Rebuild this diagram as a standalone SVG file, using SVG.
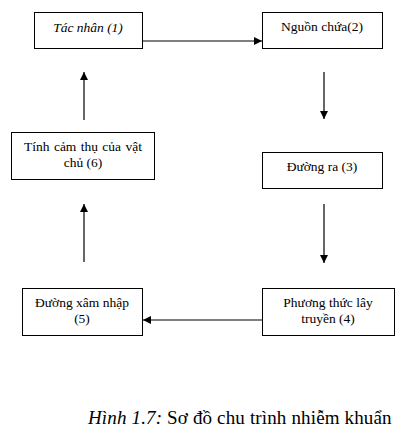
<svg xmlns="http://www.w3.org/2000/svg" width="412" height="438" viewBox="0 0 412 438">
<style>
.box{fill:#fff;stroke:#000;stroke-width:1}
.t{font-family:'Liberation Serif',serif;font-size:13.5px;fill:#000;text-anchor:middle}
.c{stroke:#000;stroke-width:1.2;fill:none}
.cap{font-family:'Liberation Serif',serif;font-size:19px;fill:#000}
</style>
<defs>
<marker id="ah" viewBox="0 0 10 10" refX="10" refY="5" markerWidth="8" markerHeight="8" markerUnits="userSpaceOnUse" orient="auto">
<path d="M0,0 L10,5 L0,10 z" fill="#000"/>
</marker>
</defs>
<rect width="412" height="438" fill="#fff"/>
<g id="n1"><rect class="box" x="34.5" y="12.5" width="108" height="36"/><text class="t" x="88" y="32" font-style="italic">Tác nhân (1)</text></g>
<g id="n2"><rect class="box" x="262.5" y="12.5" width="120" height="36"/><text class="t" x="322" y="31">Nguồn chứa(2)</text></g>
<g id="n3"><rect class="box" x="262.5" y="152.5" width="120" height="36"/><text class="t" x="322" y="171">Đường ra (3)</text></g>
<g id="n4"><rect class="box" x="262.5" y="288.5" width="132" height="47"/><text class="t" x="328" y="307">Phương thức lây</text><text class="t" x="328" y="323">truyền (4)</text></g>
<g id="n5"><rect class="box" x="22.5" y="288.5" width="120" height="47"/><text class="t" x="82" y="307">Đường xâm nhập</text><text class="t" x="82" y="323">(5)</text></g>
<g id="n6"><rect class="box" x="11.5" y="132.5" width="143" height="47"/><text class="t" x="83" y="151" word-spacing="1">Tính cảm thụ của vật</text><text class="t" x="83" y="167">chủ (6)</text></g>
<g id="connectors">
<line class="c" x1="143" y1="41" x2="262" y2="41" marker-end="url(#ah)"/>
<line class="c" x1="324" y1="72" x2="324" y2="119" marker-end="url(#ah)"/>
<line class="c" x1="324" y1="204" x2="324" y2="263" marker-end="url(#ah)"/>
<line class="c" x1="262" y1="320" x2="143" y2="320" marker-end="url(#ah)"/>
<line class="c" x1="84" y1="262" x2="84" y2="204" marker-end="url(#ah)"/>
<line class="c" x1="84" y1="120" x2="84" y2="72" marker-end="url(#ah)"/>
</g>
<text class="cap" x="88" y="424" letter-spacing="0.15"><tspan font-style="italic">Hình 1.7:</tspan> Sơ đồ chu trình nhiễm khuẩn</text>
</svg>
